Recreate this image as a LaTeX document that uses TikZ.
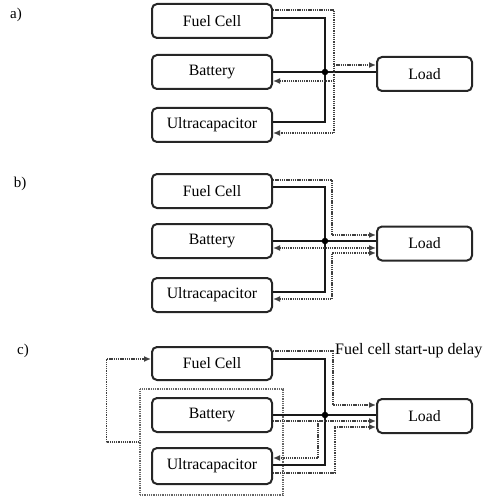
\documentclass[tikz,border=0pt]{standalone}
\usepackage{fontspec}
\setmainfont{Liberation Serif}
\usetikzlibrary{arrows.meta,calc}
\begin{document}
\begin{tikzpicture}[x=1pt,y=-1pt,
  box/.style={draw=black!85,line width=2pt,rounded corners=5pt,minimum width=120pt,minimum height=34pt,inner sep=0pt,font=\fontsize{15.8}{18}\selectfont},
  loadbox/.style={box,minimum width=95pt},
  bus/.style={draw=black!90,line width=2pt},
  dotl/.style={draw=black!75,line width=1.7pt,dash pattern=on 1.3pt off 0.9pt},
  tip/.style={-{Latex[length=7pt,width=6pt]}},
  tips/.style={{Latex[length=7pt,width=6pt]}-{Latex[length=7pt,width=6pt]}},
  lbl/.style={font=\fontsize{15}{18}\selectfont,inner sep=0pt},
  jdot/.style={circle,fill=black,inner sep=0pt,minimum size=6.5pt}
]
\useasboundingbox (0,0) rectangle (484,497);

% ---------- a) ----------
\node[lbl] (ta) at (16,15) {a)};
\node[box] (fa) at (212,21) {Fuel Cell};
\node[box] (ba) at (212,72) {Battery};
\node[box] (ua) at (212,125) {Ultracapacitor};
\node[loadbox] (la) at (424.5,74) {Load};
\coordinate (ja) at (325,72);
\coordinate (da) at (334,72);
\draw[bus] ([yshift=3pt]fa.east) -| (ja) |- ([yshift=3pt]ua.east);
\draw[bus] (ba.east) -- (ba.east -| la.west);
\node[jdot] at (ja) {};
\draw[dotl,tip] ([yshift=11pt]fa.east) -| (da) |- ([yshift=-8pt]ua.east);
\draw[dotl,tip] ([yshift=9pt]la.west -| da) -- ([yshift=9pt]la.west);
\draw[dotl,tip] ([yshift=-9pt]ba.east -| da) -- ([yshift=-9pt]ba.east);

% ---------- b) ----------
\node[lbl] (tb) at (20,184) {b)};
\node[box] (fb) at (212,191) {Fuel Cell};
\node[box] (bb) at (212,241) {Battery};
\node[box] (ub) at (212,295) {Ultracapacitor};
\node[loadbox] (lb) at (424.5,243.5) {Load};
\coordinate (jb) at (325,241);
\coordinate (db) at (332,241);
\draw[bus] ([yshift=4pt]fb.east) -| (jb) |- ([yshift=3pt]ub.east);
\draw[bus] (bb.east) -- (bb.east -| lb.west);
\node[jdot] at (jb) {};
\draw[dotl,tip] ([yshift=11pt]fb.east) -| ([yshift=8.5pt]lb.west -| db) -- ([yshift=8.5pt]lb.west);
\draw[dotl,tips] ([yshift=-7pt]bb.east) -- ([yshift=-7pt]bb.east -| lb.west);
\draw[dotl,tips] ([yshift=-4pt]ub.east) -| ([yshift=-9.5pt]lb.west -| db) -- ([yshift=-9.5pt]lb.west);

% ---------- c) ----------
\node[lbl] (tc) at (23,351) {c)};
\node[box,minimum height=33pt] (fc) at (212,363.5) {Fuel Cell};
\node[box] (bc) at (212,415) {Battery};
\node[box,minimum height=36pt] (uc) at (212,466) {Ultracapacitor};
\node[loadbox] (lc) at (424.5,416) {Load};
\node[draw=black!60,line width=1.1pt,dash pattern=on 1pt off 0.8pt,minimum width=143pt,minimum height=106pt,inner sep=0pt] (gc) at (211.5,442) {};
\coordinate (jc) at (325,415);
\coordinate (dc) at (333,415);
\coordinate (ec) at (335,415);
\coordinate (bx) at (318,421);
\draw[dotl,tip] (gc.west) -- ++(-33,0) |- ([yshift=4.5pt]fc.west);
\draw[bus] ([yshift=4.5pt]fc.east) -| (jc) |- ([yshift=1pt]uc.east);
\draw[bus] (bc.east) -- (bc.east -| lc.west);
\node[jdot] at (jc) {};
\draw[dotl,tip] ([yshift=12.5pt]fc.east) -| ([yshift=11pt]lc.west -| dc) -- ([yshift=11pt]lc.west);
\node[lbl,anchor=west,font=\fontsize{16}{19}\selectfont] (delay) at (335,351) {Fuel cell start-up delay};
\draw[dotl,tip] ([yshift=-6pt]bc.east) -- ([yshift=-6pt]bc.east -| lc.west);
\draw[dotl,tip] (bx) |- ([yshift=8pt]uc.east);
\draw[dotl,tip] ([yshift=-7pt]uc.east) -| ([yshift=-11pt]lc.west -| ec) -- ([yshift=-11pt]lc.west);
\end{tikzpicture}
\end{document}
